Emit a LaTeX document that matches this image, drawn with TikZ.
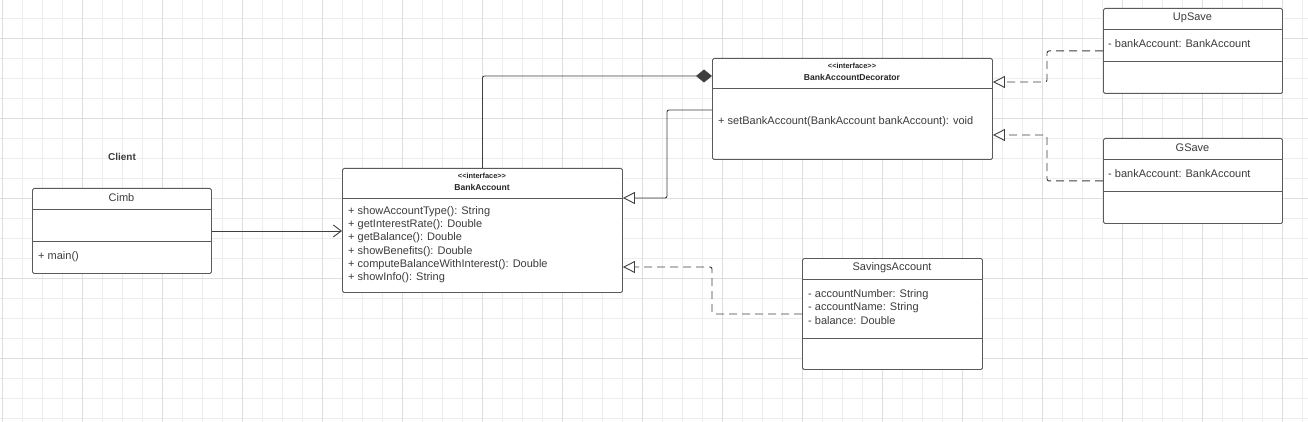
\documentclass[tikz,border=0pt]{standalone}
\usepackage{fontspec}
\setmainfont{Liberation Sans}
\usetikzlibrary{calc}
\usetikzlibrary{arrows.meta}
\usetikzlibrary{positioning}
\definecolor{gridminor}{HTML}{EDEDED}
\definecolor{gridmajor}{HTML}{DEDEDE}
\definecolor{boxc}{HTML}{5A5A5A}
\definecolor{linec}{HTML}{3F3F3F}
\definecolor{txtc}{HTML}{3C3C3C}
\tikzset{
	classbox/.style={draw=boxc, line width=0.9pt, rounded corners=1.5pt, fill=white, inner sep=0pt, anchor=north west},
	sepline/.style={draw=boxc, line width=0.9pt},
	member/.style={anchor=west, inner sep=0pt, text=txtc, font=\fontsize{11}{13}\selectfont},
	classname/.style={inner sep=0pt, text=txtc, font=\fontsize{11}{13}\selectfont},
	stereo/.style={inner sep=0pt, text=black!85, font=\bfseries\fontsize{7.4}{9}\selectfont},
	ifname/.style={inner sep=0pt, text=black!85, font=\bfseries\fontsize{8.6}{10}\selectfont},
	assoc/.style={draw=linec, line width=0.9pt, -{Straight Barb[length=8pt,width=12pt]}},
	inherit/.style={draw=linec, line width=0.9pt, -{Triangle[open,length=12pt,width=12pt,fill=white]}},
	realize/.style={inherit, dash pattern=on 8pt off 5pt, rounded corners=2pt},
	compose/.style={draw=linec, line width=0.9pt, rounded corners=2pt, -{Diamond[length=16pt,width=13pt,fill=linec]}}
}
\newcommand{\stereotxt}{<\kern0pt<interface>\kern0pt>}

\begin{document}
\begin{tikzpicture}[x=1pt,y=-1pt]
			\useasboundingbox[fill=white] (0,0) rectangle (1308,422);
			\foreach \gx in {2.5,22.5,...,1302.5} \draw[gridminor, line width=0.8pt] (\gx,0) -- (\gx,422);
			\foreach \gy in {18.5,38.5,...,418.5} \draw[gridminor, line width=0.8pt] (0,\gy) -- (1308,\gy);
			\foreach \gx in {2.5,82.5,...,1302.5} \draw[gridmajor, line width=0.8pt] (\gx,0) -- (\gx,422);
			\foreach \gy in {38.5,118.5,...,358.5} \draw[gridmajor, line width=0.8pt] (0,\gy) -- (1308,\gy);
			
			\node[font=\bfseries\fontsize{10}{12}\selectfont, text=txtc, inner sep=0pt] (client) at (122,157) {Client};
			
			\node[classbox, minimum width=179pt, minimum height=85pt] (cimb) at (32,188) {};
			\draw[sepline] ($(cimb.north west)+(0,21)$) -- ($(cimb.north east)+(0,21)$);
			\draw[sepline] ($(cimb.north west)+(0,53)$) -- ($(cimb.north east)+(0,53)$);
			\node[classname] (cimb-t) at (121.5,197.5) {Cimb};
			\node[member] (cimb-m) at (38,257) {+ main()};
			
			\node[classbox, minimum width=280pt, minimum height=124pt] (bankacc) at (342,168) {};
			\draw[sepline] ($(bankacc.north west)+(0,30)$) -- ($(bankacc.north east)+(0,30)$);
			\node[stereo] (bankacc-s) at (482,176) {\stereotxt};
			\node[ifname] (bankacc-t) at (482,187) {BankAccount};
			\foreach \m [count=\i] in {{+ showAccountType(): String},{+ getInterestRate(): Double},{+ getBalance(): Double},{+ showBenefits(): Double},{+ computeBalanceWithInterest(): Double},{+ showInfo(): String}}
				\node[member] (bankacc-m\i) at (348,{198+13.3*\i}) {\m};
			
			\node[classbox, minimum width=280pt, minimum height=101pt] (decor) at (712,58) {};
			\draw[sepline] ($(decor.north west)+(0,30)$) -- ($(decor.north east)+(0,30)$);
			\node[stereo] (decor-s) at (852,66) {\stereotxt};
			\node[ifname] (decor-t) at (852,77) {BankAccountDecorator};
			\node[member] (decor-m) at (718,122) {+ setBankAccount(BankAccount bankAccount): void};
			
			\node[classbox, minimum width=179pt, minimum height=85pt] (upsave) at (1103,8) {};
			\draw[sepline] ($(upsave.north west)+(0,21)$) -- ($(upsave.north east)+(0,21)$);
			\draw[sepline] ($(upsave.north west)+(0,53)$) -- ($(upsave.north east)+(0,53)$);
			\node[classname] (upsave-t) at (1192.5,17.5) {UpSave};
			\node[member] (upsave-a) at (1108,44) {- bankAccount: BankAccount};
			
			\node[classbox, minimum width=179pt, minimum height=85pt] (gsave) at (1103,138) {};
			\draw[sepline] ($(gsave.north west)+(0,21)$) -- ($(gsave.north east)+(0,21)$);
			\draw[sepline] ($(gsave.north west)+(0,53)$) -- ($(gsave.north east)+(0,53)$);
			\node[classname] (gsave-t) at (1192.5,147.5) {GSave};
			\node[member] (gsave-a) at (1108,174) {- bankAccount: BankAccount};
			
			\node[classbox, minimum width=180pt, minimum height=111pt] (savings) at (802,258) {};
			\draw[sepline] ($(savings.north west)+(0,21)$) -- ($(savings.north east)+(0,21)$);
			\draw[sepline] ($(savings.north west)+(0,80)$) -- ($(savings.north east)+(0,80)$);
			\node[classname] (savings-t) at (892,268) {SavingsAccount};
			\foreach \a [count=\i] in {{- accountNumber: String},{- accountName: String},{- balance: Double}}
				\node[member] (savings-a\i) at (808,{281+13.3*\i}) {\a};
			
			\draw[assoc] (cimb.east) -- (cimb.east -| bankacc.west);
			\draw[compose] (bankacc.north) |- ($(decor.north west)+(0,18)$);
			\draw[inherit, rounded corners=2pt] ($(decor.north west)+(0,52)$) -- ++(-45,0) |- ($(bankacc.north east)+(0,30)$);
			\draw[realize] (upsave.west) -- ++(-56,0) |- ($(decor.north east)+(0,24)$);
			\draw[realize] (gsave.west) -- ++(-56,0) |- ($(decor.north east)+(0,77)$);
			\draw[realize] (savings.west) -- ++(-90,0) |- ($(bankacc.north east)+(0,99)$);
		\end{tikzpicture}
\end{document}
